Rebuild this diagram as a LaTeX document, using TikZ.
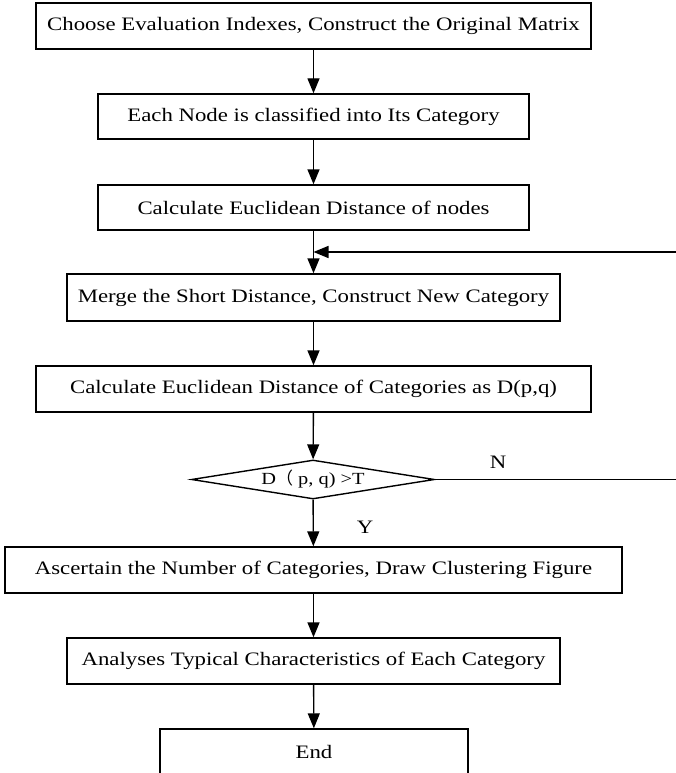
\documentclass[tikz,border=0pt]{standalone}
\usepackage{fontspec}
\setmainfont[FakeStretch=1.2]{Liberation Serif}
\newfontfamily\cjk{Noto Sans CJK SC}
\usetikzlibrary{arrows.meta, positioning, shapes.geometric}
\tikzset{
  every picture/.style={line width=1.4pt},
  stepbox/.style={draw, minimum height=46pt, inner sep=0pt, font=\fontsize{19}{22}\selectfont},
  test/.style={draw, diamond, aspect=6, inner sep=0pt, minimum width=243pt, minimum height=39pt,
    font=\fontsize{17}{19}\selectfont},
  arrow/.style={-{Triangle[length=15pt, width=12pt]}},
  yn/.style={font=\fontsize{19}{22}\selectfont},
}

\begin{document}
\begin{tikzpicture}[x=1pt, y=-1pt]
  \useasboundingbox (0,0) rectangle (676,773);
  \clip (0,0) rectangle (676,773);

  \node[stepbox, minimum width=555pt] (b1) at (313.5, 26) {Choose Evaluation Indexes, Construct the Original Matrix};
  \node[stepbox, minimum width=431pt, minimum height=45pt] (b2) at (313.5, 116.5) {Each Node is classified into Its Category};
  \node[stepbox, minimum width=431pt, minimum height=45pt] (b3) at (313.5, 207.5) {Calculate Euclidean Distance of nodes};
  \node[stepbox, minimum width=493pt, minimum height=47pt] (b4) at (313.5, 297.5) {Merge the Short Distance, Construct New Category};
  \node[stepbox, minimum width=555pt] (b5) at (313.5, 389) {Calculate Euclidean Distance of Categories as D(p,q)};
  \node[test] (dec) at (313, 479.5) {D{\cjk （} p, q) >T};
  \node[stepbox, minimum width=617pt] (b6) at (313.5, 570) {Ascertain the Number of Categories, Draw Clustering Figure};
  \node[stepbox, minimum width=493pt] (b7) at (313.5, 661) {Analyses Typical Characteristics of Each Category};
  \node[stepbox, minimum width=308pt] (end) at (314, 752) {End};

  \node[yn] (no) at (498, 462) {N};
  \node[yn] (yes) at (365, 527) {Y};

  \draw[arrow] (b1) -- (b2);
  \draw[arrow] (b2) -- (b3);
  \draw[arrow] (b3) -- (b4);
  \draw[arrow] (b4) -- (b5);
  \draw[arrow] (b5) -- (dec);
  \draw[arrow] (dec) -- (b6);
  \draw[arrow] (b6) -- (b7);
  \draw[arrow] (b7) -- (end);

  % loop back for N (runs off to the right)
  \coordinate (loop) at (700, 0);
  \coordinate (join) at (313.5, 252);
  \draw[arrow] (dec.east) -- (dec.east -| loop) |- (join);
\end{tikzpicture}
\end{document}
